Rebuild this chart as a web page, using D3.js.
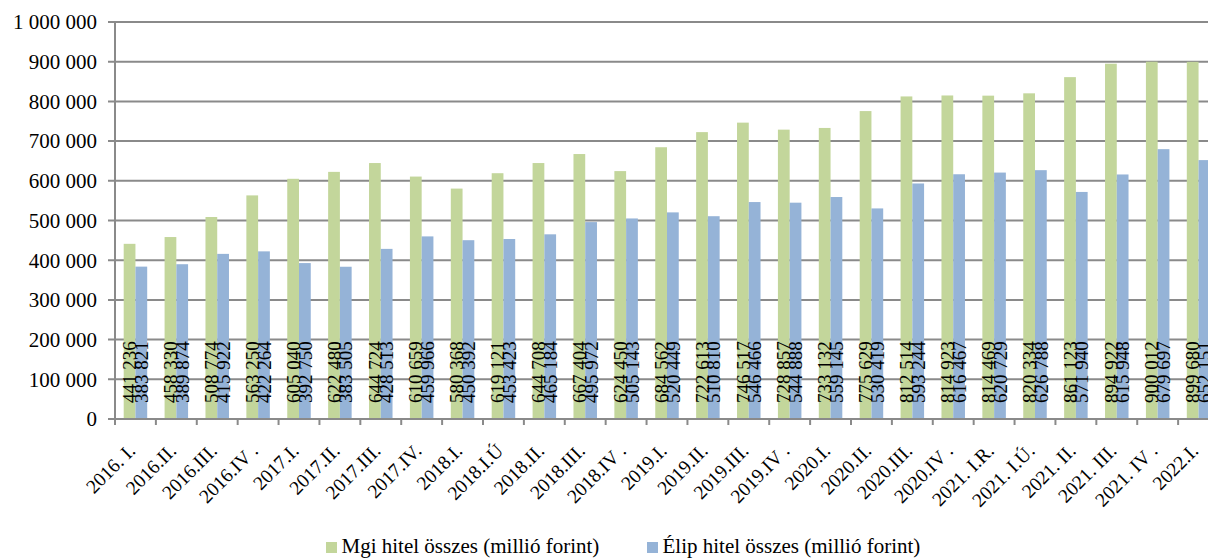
<!DOCTYPE html>
<html>
<head>
<meta charset="utf-8">
<script src="https://cdn.jsdelivr.net/npm/d3@7"></script>
<style>
  body { margin: 0; background: #fff; }
  svg text { font-family: "Liberation Serif", "DejaVu Serif", "Times New Roman", Times, serif; }
</style>
</head>
<body>
<div id="chart"></div>
<script>
// Quarters on the x axis
var quarters = ["2016. I.", "2016.II.", "2016.III.", "2016.IV .", "2017.I.", "2017.II.", "2017.III.", "2017.IV.",
  "2018.I.", "2018.I.Ú", "2018.II.", "2018.III.", "2018.IV .", "2019.I.", "2019.II.", "2019.III.", "2019.IV .",
  "2020.I.", "2020.II.", "2020.III.", "2020.IV .", "2021. I.R.", "2021. I.Ú.", "2021. II.", "2021. III.",
  "2021. IV .", "2022.I."];

// Mgi hitel összes (millió forint)
var mgiValues = [441236, 458330, 508774, 563250, 605040, 622480, 644724, 610659, 580368, 619121, 644708,
  667404, 624450, 684562, 722613, 746517, 728857, 733132, 775629, 812514, 814923, 814469, 820334, 861123,
  894922, 900012, 899680];

// Élip hitel összes (millió forint)
var elipValues = [383821, 389874, 415922, 422264, 392750, 383505, 428513, 459966, 450392, 453423, 465184,
  495972, 505143, 520449, 510810, 546466, 544888, 559145, 530419, 593244, 616467, 620729, 626788, 571940,
  615948, 679697, 652151];

var seriesNames = ["Mgi hitel összes (millió forint)", "Élip hitel összes (millió forint)"];
var seriesColors = ["#c3d69b", "#95b3d7"];
var yTicks = [0, 100000, 200000, 300000, 400000, 500000, 600000, 700000, 800000, 900000, 1000000];

var W = 1208, H = 558;
var plot = { left: 115, right: 1219, top: 22, bottom: 419 };
var FONT = "'Liberation Serif', 'DejaVu Serif', serif";

// "1 000 000" style numbers
var fmt = function (v) { return d3.format(",")(v).replace(/,/g, " "); };

var rows = quarters.map(function (q, i) {
  return { q: q, values: [mgiValues[i], elipValues[i]] };
});

var svg = d3.select("#chart").append("svg")
    .attr("width", W)
    .attr("height", H);

var x0 = d3.scaleBand()
    .domain(quarters)
    .range([plot.left, plot.right])
    .padding(0);

var x1 = d3.scaleBand()
    .domain([0, 1])
    .range([0, x0.bandwidth()])
    .paddingInner(0)
    .paddingOuter(0.74);

var y = d3.scaleLinear()
    .domain([0, 1000000])
    .range([plot.bottom, plot.top]);

// Gridlines + y ticks
svg.append("g")
    .attr("class", "grid")
    .selectAll("line")
    .data(yTicks).enter()
    .append("line")
    .attr("x1", plot.left - 7)
    .attr("x2", plot.right)
    .attr("y1", function (d) { return y(d); })
    .attr("y2", function (d) { return y(d); })
    .attr("stroke", "#8a8a8a")
    .attr("stroke-width", 2);

svg.append("g")
    .selectAll("text")
    .data(yTicks).enter()
    .append("text")
    .attr("x", 97)
    .attr("y", function (d) { return y(d); })
    .attr("dy", "0.35em")
    .attr("text-anchor", "end")
    .attr("font-family", FONT)
    .attr("font-size", 21)
    .text(fmt);

// Bars
var groups = svg.append("g")
    .selectAll("g")
    .data(rows).enter()
    .append("g")
    .attr("transform", function (d) { return "translate(" + x0(d.q) + ",0)"; });

groups.selectAll("rect")
    .data(function (d) { return d.values; }).enter()
    .append("rect")
    .attr("x", function (d, i) { return x1(i); })
    .attr("width", x1.bandwidth())
    .attr("y", function (d) { return y(d); })
    .attr("height", function (d) { return plot.bottom - y(d); })
    .attr("fill", function (d, i) { return seriesColors[i]; });

// Value labels, written upwards from the base of each bar
groups.selectAll("text")
    .data(function (d) { return d.values; }).enter()
    .append("text")
    .attr("transform", function (d, i) {
      return "translate(" + (x1(i) + x1.bandwidth() / 2) + "," + (plot.bottom - 16) + ") rotate(-90)";
    })
    .attr("dy", "0.35em")
    .attr("font-family", FONT)
    .attr("font-size", 19)
    .text(fmt);

// Axis lines
svg.append("line")
    .attr("x1", plot.left).attr("x2", plot.left)
    .attr("y1", plot.top).attr("y2", plot.bottom)
    .attr("stroke", "#8a8a8a").attr("stroke-width", 2);

svg.append("line")
    .attr("x1", plot.left).attr("x2", plot.right)
    .attr("y1", plot.bottom).attr("y2", plot.bottom)
    .attr("stroke", "#8a8a8a").attr("stroke-width", 2);

// Category tick marks
svg.append("g")
    .selectAll("line")
    .data(quarters).enter()
    .append("line")
    .attr("x1", function (d) { return x0(d); })
    .attr("x2", function (d) { return x0(d); })
    .attr("y1", plot.bottom)
    .attr("y2", plot.bottom + 6)
    .attr("stroke", "#8a8a8a")
    .attr("stroke-width", 2);

// Category labels at 45°
svg.append("g")
    .selectAll("text")
    .data(quarters).enter()
    .append("text")
    .attr("transform", function (d) {
      return "translate(" + (x0(d) + x0.bandwidth() / 2 + 1) + "," + 452 + ") rotate(-45)";
    })
    .attr("text-anchor", "end")
    .attr("font-family", FONT)
    .attr("font-size", 19.5)
    .text(function (d) { return d; });

// Legend
var legendX = [326, 647];
var legend = svg.append("g")
    .selectAll("g")
    .data(seriesNames).enter()
    .append("g")
    .attr("transform", function (d, i) { return "translate(" + legendX[i] + ",0)"; });

legend.append("rect")
    .attr("x", 0)
    .attr("y", 542)
    .attr("width", 11)
    .attr("height", 11)
    .attr("fill", function (d, i) { return seriesColors[i]; });

legend.append("text")
    .attr("x", 15.5)
    .attr("y", 553)
    .attr("font-family", FONT)
    .attr("font-size", 21)
    .text(function (d) { return d; });
</script>
</body>
</html>
